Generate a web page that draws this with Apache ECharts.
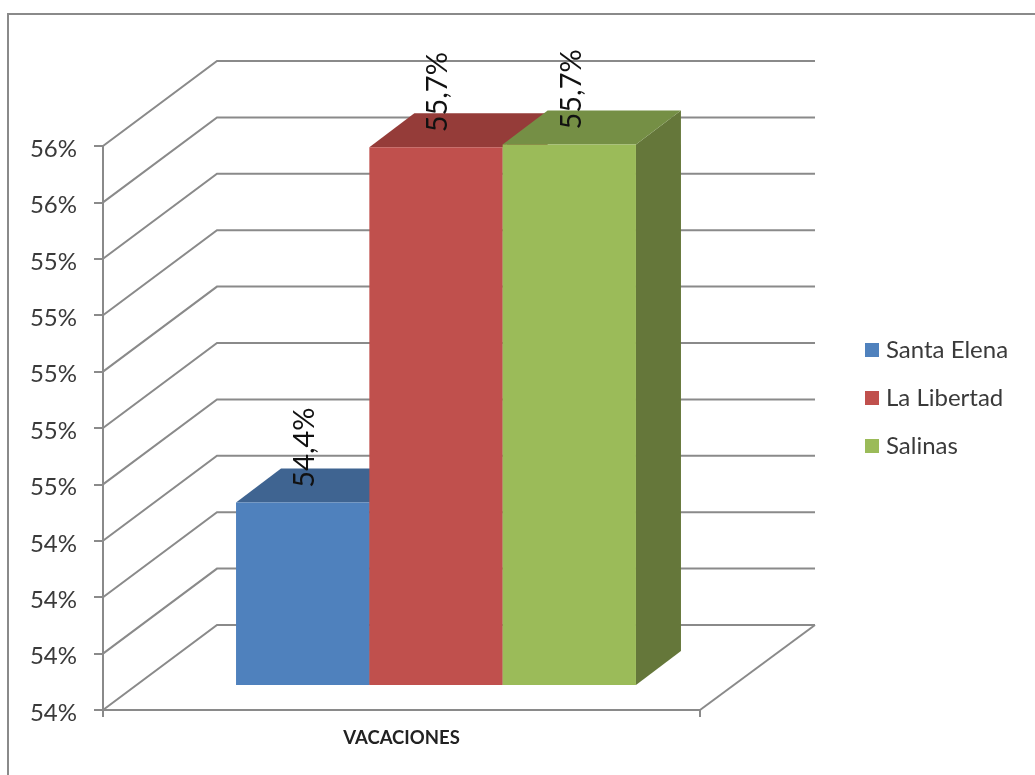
<!DOCTYPE html>
<html><head><meta charset="utf-8">
<style>html,body{margin:0;padding:0;background:#fff}#c{width:1035px;height:775px}</style>
<script src="https://cdn.jsdelivr.net/npm/echarts@6/dist/echarts.min.js"></script>
</head><body><div id="c"></div>
<script>
const categories = ['VACACIONES'];
const seriesNames = ['Santa Elena', 'La Libertad', 'Salinas'];
const santaElena = [54.447];
const laLibertad = [55.707];
const salinas = [55.717];
const yTicks = [53.8, 54.0, 54.2, 54.4, 54.6, 54.8, 55.0, 55.2, 55.4, 55.6, 55.8];
const faceColors = ['#4f81bd', '#c0504d', '#9bbb59'];
const topColors = ['#3f6491', '#953c39', '#758f45'];
const sideColors = ['#335075', '#7a302e', '#65773a'];

const FONT = 'Lato';
const LINE = '#8a8a8a';
const AXIS_MIN = yTicks[0];
const WALL = [114, -85];      // depth of the back wall
const BAR_SHIFT = [32, -25];  // front plane of the bars
const BAR_DEPTH = [45, -34];  // depth of a bar
const BAR_SHARE = 0.2233;     // bar width as a share of the category band

function barGeom(api, idx, val) {
  const p = api.coord([api.value(0), val]);
  const base = api.coord([api.value(0), AXIS_MIN]);
  const w = api.size([1, 0])[0] * BAR_SHARE;
  const left = p[0] + 2.5 + BAR_SHIFT[0] + (idx - 1.5) * w;
  return { left, right: left + w, top: p[1] + BAR_SHIFT[1], bottom: base[1] + BAR_SHIFT[1], w };
}

function barSeries(idx, values) {
  return {
    type: 'custom', name: seriesNames[idx], z: 3 + idx,
    itemStyle: { color: faceColors[idx] },
    encode: { x: 0, y: 1 },
    data: values.map((v, i) => [categories[i], v]),
    renderItem: (params, api) => {
      const g = barGeom(api, idx, api.value(1));
      const [dx, dy] = BAR_DEPTH;
      return { type: 'group', children: [
        { type: 'polygon', shape: { points: [[g.right, g.top], [g.right + dx, g.top + dy], [g.right + dx, g.bottom + dy], [g.right, g.bottom]] }, style: { fill: sideColors[idx] } },
        { type: 'polygon', shape: { points: [[g.left, g.top], [g.left + dx, g.top + dy], [g.right + dx, g.top + dy], [g.right, g.top]] }, style: { fill: topColors[idx] } },
        { type: 'rect', shape: { x: g.left, y: g.top, width: g.w, height: g.bottom - g.top }, style: { fill: faceColors[idx] } }
      ] };
    }
  };
}

const allValues = [santaElena, laLibertad, salinas];
const labelRows = allValues.map((vals, idx) => [categories[0], vals[0], idx]);

const option = {
  animation: false,
  backgroundColor: '#fff',
  graphic: [{ type: 'rect', silent: true, z: 0,
    shape: { x: 8, y: 14, width: 1200, height: 1000 },
    style: { fill: 'none', stroke: LINE, lineWidth: 2 } }],
  grid: { left: 103, right: 335, top: 146, bottom: 65, containLabel: false },
  legend: {
    orient: 'vertical', left: 865, top: 337, padding: 0,
    data: seriesNames, icon: 'rect',
    itemWidth: 14, itemHeight: 14, itemGap: 22,
    textStyle: { fontFamily: FONT, fontSize: 24, color: '#3a3a3a', padding: [0, 0, 0, 2], lineHeight: 26 }
  },
  xAxis: {
    type: 'category', data: categories,
    axisLine: { lineStyle: { color: LINE, width: 2 } },
    axisTick: { show: true, length: 7, lineStyle: { color: LINE, width: 2 } },
    axisLabel: { fontFamily: FONT, fontWeight: 'bold', fontSize: 18.5, color: '#222', margin: 19 }
  },
  yAxis: {
    type: 'value', min: AXIS_MIN, max: 55.8, interval: 0.2,
    splitLine: { show: false },
    axisLine: { show: true, lineStyle: { color: LINE, width: 2 } },
    axisTick: { show: true, length: 9, lineStyle: { color: LINE, width: 2 } },
    axisLabel: { fontFamily: FONT, fontSize: 24, color: '#3a3a3a', margin: 26, verticalAlign: 'top', lineHeight: 6,
      formatter: v => Math.round(v) + '%' }
  },
  series: [
    { type: 'custom', z: 1, silent: true, encode: { y: 0 },
      data: yTicks.map(v => [v]),
      renderItem: (params, api) => {
        const v = api.value(0);
        const p = api.coord([0, v]);
        const x0 = params.coordSys.x, x1 = x0 + params.coordSys.width;
        const bx = x0 + WALL[0], by = p[1] + WALL[1];
        const children = [
          { type: 'polyline', shape: { points: [[x0, p[1]], [bx, by], [x1 + WALL[0] + 1, by]] },
            style: { fill: 'none', stroke: LINE, lineWidth: 2 } }
        ];
        if (v === AXIS_MIN) {
          children.push({ type: 'line', shape: { x1: x1, y1: p[1], x2: x1 + WALL[0] + 1, y2: by },
            style: { stroke: LINE, lineWidth: 2 } });
        }
        return { type: 'group', children };
      }
    },
    barSeries(0, santaElena),
    barSeries(1, laLibertad),
    barSeries(2, salinas),
    { type: 'custom', z: 10, silent: true, encode: { x: 0, y: 1 },
      data: labelRows,
      renderItem: (params, api) => {
        const idx = api.value(2);
        const val = api.value(1);
        const g = barGeom(api, idx, val);
        return { type: 'text', x: (g.left + g.right) / 2 + 2, y: g.top - 55, rotation: Math.PI / 2,
          style: { text: val.toFixed(1).replace('.', ',') + '%', fontFamily: FONT, fontSize: 29,
            fill: '#111', align: 'center', verticalAlign: 'middle' } };
      }
    }
  ]
};
echarts.init(document.getElementById('c')).setOption(option);
</script></body></html>
